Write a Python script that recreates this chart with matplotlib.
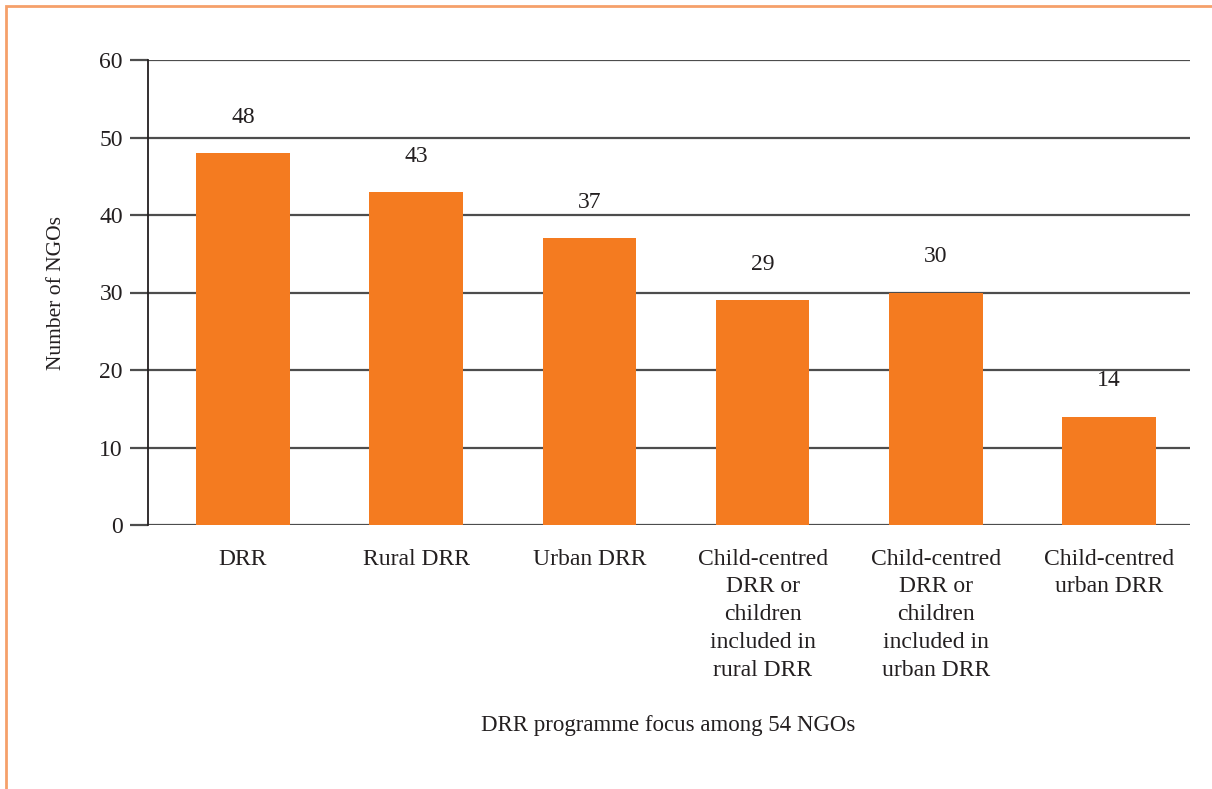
import matplotlib.pyplot as plt
from matplotlib.patches import Rectangle

categories = ['DRR', 'Rural DRR', 'Urban DRR',
              'Child-centred\nDRR or\nchildren\nincluded in\nrural DRR',
              'Child-centred\nDRR or\nchildren\nincluded in\nurban DRR',
              'Child-centred\nurban DRR']
values = [48, 43, 37, 29, 30, 14]
yticks = [0, 10, 20, 30, 40, 50, 60]

plt.rcParams['font.family'] = ['Liberation Serif', 'DejaVu Serif']
fs = 17

fig = plt.figure(figsize=(12.12, 7.89), dpi=100)
ax = fig.add_axes([148/1212, 1 - 525/789, (1190-148)/1212, (525-60)/789])

x = range(len(categories))
ax.bar(x, values, width=0.54, color='#F47B20', zorder=3)

for i, v in enumerate(values):
    ax.annotate(str(v), (i, v), xytext=(0, 18), textcoords='offset points',
                ha='center', va='bottom', fontsize=fs, color='#231f20')

ax.set_xlim(-0.548, 5.467)
ax.set_ylim(0, 60)
ax.set_yticks(yticks)
ax.yaxis.grid(True, color='#4d4d4d', linewidth=1.6, zorder=0)
ax.tick_params(axis='y', length=13, width=1.6, color='#4d4d4d', labelsize=fs,
               pad=5, labelcolor='#231f20')
ax.tick_params(axis='x', length=0, labelsize=fs, pad=17, labelcolor='#231f20')
ax.set_xticks(list(x))
ax.set_xticklabels(categories, linespacing=1.43, va='top')

for s in ['top', 'right', 'bottom']:
    ax.spines[s].set_visible(False)
ax.spines['left'].set_color('#231f20')
ax.spines['left'].set_linewidth(1.3)

ax.set_ylabel('Number of NGOs', fontsize=15.5, color='#231f20', labelpad=24)
fig.text(668/1212, 1 - 725/789, 'DRR programme focus among 54 NGOs',
         ha='center', va='center', fontsize=fs - 0.5, color='#231f20')

fig.patches.append(Rectangle((6/1212, -0.1), 1.2, 1 - 6/789 + 0.1,
                             transform=fig.transFigure, fill=False,
                             edgecolor='#F5A06A', linewidth=2, zorder=10))

fig.savefig('out.png', dpi=100)
